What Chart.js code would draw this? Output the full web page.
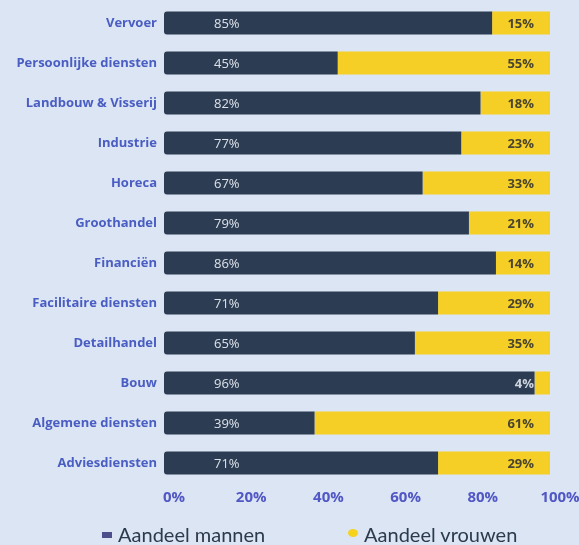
<!DOCTYPE html>
<html lang="nl">
<head>
<meta charset="utf-8">
<title>Aandeel mannen en vrouwen per sector</title>
<script src="https://cdn.jsdelivr.net/npm/chart.js@4.4.1/dist/chart.umd.min.js"></script>
<style>
    html, body {
        margin: 0;
        padding: 0;
        background: #dbe5f4;
    }

    .wrap {
        position: relative;
        width: 579px;
        height: 545px;
        overflow: hidden;
    }

    .legend {
        position: absolute;
        top: 524px;
        left: 0;
        width: 579px;
        font-family: Lato, "Open Sans", sans-serif;
        font-size: 20px;
        line-height: 20px;
        color: #2b3a4c;
        white-space: nowrap;
    }

    .legend span {
        position: absolute;
        top: 0;
    }

    .legend i {
        display: inline-block;
        vertical-align: middle;
        margin-right: 6px;
        position: relative;
    }

    .legend .men i {
        width: 10px;
        height: 6px;
        top: -2px;
        background: #4d4f8c;
    }

    .legend .women i {
        width: 10px;
        height: 8px;
        top: -4px;
        border-radius: 50%;
        background: #f5d21c;
    }
</style>
</head>
<body>

<div class="wrap">
    <canvas id="sectorChart" width="579" height="545"></canvas>

    <div class="legend">
        <span class="men" style="left: 102px;"><i></i>Aandeel mannen</span>
        <span class="women" style="left: 348px;"><i></i>Aandeel vrouwen</span>
    </div>
</div>

<script>
    // ==========================
    // DATA
    // ==========================

    const sectors = [
        'Vervoer',
        'Persoonlijke diensten',
        'Landbouw & Visserij',
        'Industrie',
        'Horeca',
        'Groothandel',
        'Financiën',
        'Facilitaire diensten',
        'Detailhandel',
        'Bouw',
        'Algemene diensten',
        'Adviesdiensten'
    ];

    const men   = [85, 45, 82, 77, 67, 79, 86, 71, 65, 96, 39, 71];
    const women = [15, 55, 18, 23, 33, 21, 14, 29, 35,  4, 61, 29];

    const xTicks = [0, 20, 40, 60, 80, 100];

    const NAVY   = '#2c3d53';
    const YELLOW = '#f6cf26';
    const BLUE   = '#4a5dc2';

    // ==========================
    // VALUE LABELS
    // ==========================

    const valueLabels = {
        id: 'valueLabels',
        afterDatasetsDraw(chart) {

            const ctx = chart.ctx;
            const xScale = chart.scales.x;
            const menBars = chart.getDatasetMeta(0).data;
            const womenBars = chart.getDatasetMeta(1).data;

            ctx.save();
            ctx.textBaseline = 'middle';

            menBars.forEach((bar, i) => {
                ctx.font = '13px "Open Sans", sans-serif';
                ctx.fillStyle = '#dde2ea';
                ctx.textAlign = 'left';
                ctx.fillText(men[i] + '%', bar.base + 50, bar.y + 1);
            });

            womenBars.forEach((bar, i) => {
                const text = women[i] + '%';
                const right = xScale.getPixelForValue(100) - 16;

                ctx.font = 'bold 13px "Open Sans", sans-serif';
                const w = ctx.measureText(text).width;

                // too narrow for the text: it sits on the dark bar
                ctx.fillStyle = (bar.x - bar.base) > w + 18 ? '#4a4530' : '#cfd5df';
                ctx.textAlign = 'right';
                ctx.fillText(text, right, bar.y + 1);
            });

            ctx.restore();
        }
    };

    // ==========================
    // CHART
    // ==========================

    new Chart(document.getElementById('sectorChart'), {
        type: 'bar',
        data: {
            labels: sectors,
            datasets: [
                {
                    label: 'Aandeel mannen',
                    data: men,
                    backgroundColor: NAVY,
                    borderSkipped: false,
                    borderRadius: { topLeft: 3, bottomLeft: 3 }
                },
                {
                    label: 'Aandeel vrouwen',
                    data: women,
                    backgroundColor: YELLOW,
                    borderSkipped: false,
                    borderRadius: 0
                }
            ]
        },
        options: {
            indexAxis: 'y',
            responsive: false,
            animation: false,
            layout: {
                padding: { top: 3, right: 29, bottom: 33, left: 0 }
            },
            datasets: {
                bar: {
                    barPercentage: 0.575,
                    categoryPercentage: 1
                }
            },
            scales: {
                x: {
                    stacked: true,
                    min: 0,
                    max: 100,
                    border: { display: false },
                    grid: { display: false, drawTicks: false },
                    afterBuildTicks: (scale) => {
                        scale.ticks = xTicks.map(v => ({ value: v }));
                    },
                    afterFit: (scale) => {
                        scale.height = 29;
                        scale.paddingLeft = 0;
                        scale.paddingRight = 0;
                    },
                    ticks: {
                        padding: 6,
                        labelOffset: 10,
                        color: '#5157c4',
                        font: { family: '"Open Sans", sans-serif', size: 15, weight: 'bold' },
                        callback: (v) => v + '%'
                    }
                },
                y: {
                    stacked: true,
                    border: { display: false },
                    grid: { display: false, drawTicks: false },
                    afterFit: (scale) => {
                        scale.width = 164;
                        scale.paddingTop = 0;
                        scale.paddingBottom = 0;
                    },
                    ticks: {
                        padding: 7,
                        color: BLUE,
                        font: { family: '"Open Sans", sans-serif', size: 13, weight: 'bold' }
                    }
                }
            },
            plugins: {
                legend: { display: false },
                tooltip: { enabled: false }
            }
        },
        plugins: [valueLabels]
    });
</script>

</body>
</html>
